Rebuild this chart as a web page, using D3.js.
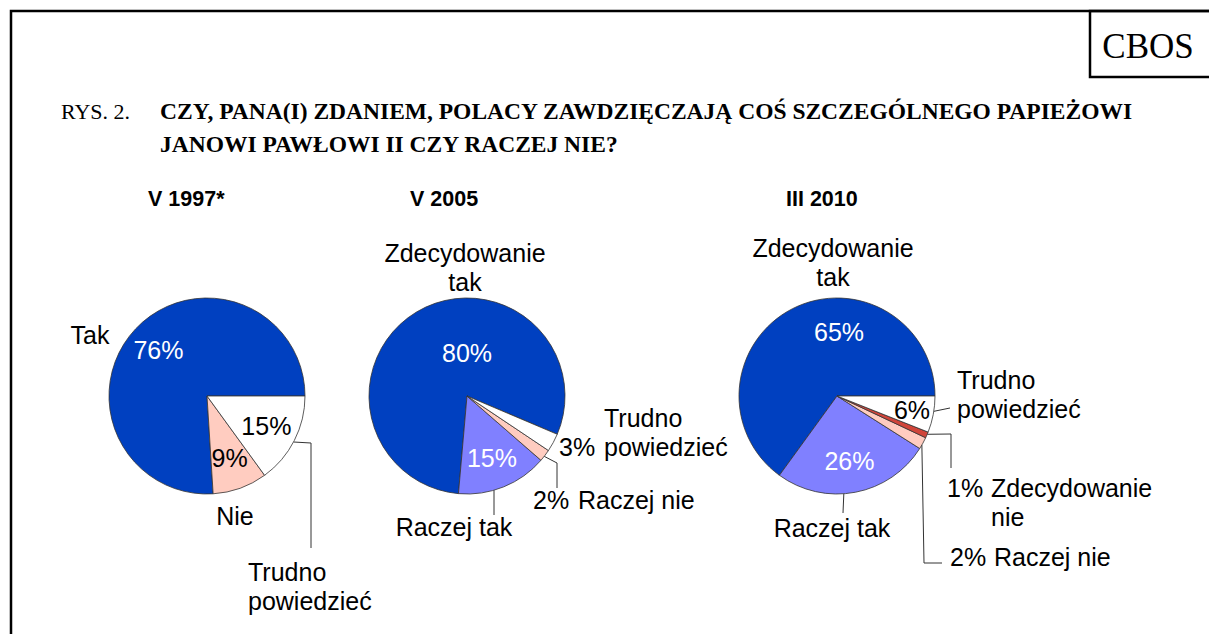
<!DOCTYPE html>
<html>
<head>
<meta charset="utf-8">
<script src="https://cdn.jsdelivr.net/npm/d3@7"></script>
<style>
  body { margin: 0; background: #fff; }
  svg { display: block; }
</style>
</head>
<body>
<svg id="chart" width="1209" height="634"></svg>
<script>
// data
var pieTitles = ['V 1997*', 'V 2005', 'III 2010'];
var cats1997 = ['Tak', 'Nie', 'Trudno powiedzieć'];
var vals1997 = [76, 9, 15];
var cats5 = ['Zdecydowanie tak', 'Raczej tak', 'Raczej nie', 'Zdecydowanie nie', 'Trudno powiedzieć'];
var vals2005 = [80, 15, 2, 0, 3];
var vals2010 = [65, 26, 2, 1, 6];

var titleLines = ['CZY, PANA(I) ZDANIEM, POLACY ZAWDZIĘCZAJĄ COŚ SZCZEGÓLNEGO PAPIEŻOWI',
                  'JANOWI PAWŁOWI II CZY RACZEJ NIE?'];

var colors1997 = ['#0040C0', '#FFCCC0', '#FFFFFF'];
var colors5 = ['#0040C0', '#8080FF', '#FFCCC0', '#D0453A', '#FFFFFF'];
var pctWhite5 = [true, true, false, false, false];

var svg = d3.select('#chart');
var r = 98;
var labelFont = "'Liberation Sans', Arial, sans-serif";
var serif = "'Liberation Serif', 'Times New Roman', serif";

// frame + CBOS box
svg.append('rect')
    .attr('x', 11).attr('y', 11)
    .attr('width', 1220).attr('height', 640)
    .style('fill', 'none').style('stroke', '#000').style('stroke-width', 2.5);
svg.append('rect')
    .attr('x', 1090).attr('y', 11)
    .attr('width', 140).attr('height', 66)
    .style('fill', 'none').style('stroke', '#000').style('stroke-width', 2.5);
svg.append('text')
    .attr('x', 1148).attr('y', 58)
    .attr('text-anchor', 'middle')
    .style('font-family', serif).style('font-size', '35px')
    .text('CBOS');

// title
svg.append('text')
    .attr('x', 61).attr('y', 119)
    .style('font-family', serif).style('font-size', '22px')
    .text('RYS. 2.');
titleLines.forEach(function (t, i) {
    svg.append('text')
        .attr('x', 160).attr('y', 119 + i * 33)
        .style('font-family', serif).style('font-size', '23.5px').style('font-weight', 'bold')
        .text(t);
});

// per-pie layout (label offsets relative to the pie centre)
var pies = [
  { title: pieTitles[0], cats: cats1997, vals: vals1997, colors: colors1997, white: [true, false, false],
    cx: 207, cy: 396, start: 90, tx: 148,
    slices: [
      { name: { x: -117, y: -61, anchor: 'middle' } },
      { name: { x: 28, y: 120, anchor: 'middle' } },
      { name: { x: 41, y: 176, anchor: 'start', wrap: true }, leader: { a: 118, pts: [[104, 47], [104, 152]] } }
    ] },
  { title: pieTitles[1], cats: cats5, vals: vals2005, colors: colors5, white: pctWhite5,
    cx: 467, cy: 396, start: 113, tx: 410,
    slices: [
      { name: { x: -2, y: -143, anchor: 'middle', wrap: true }, pct: { x: 0, y: -43, anchor: 'middle' } },
      { name: { x: -13, y: 131, anchor: 'middle' }, leader: { a: 164, pts: [[27, 119]] } },
      { name: { x: 111, y: 104, anchor: 'start' }, pct: { x: 66, y: 104, anchor: 'start' },
        leader: { a: 128, pts: [[90, 67], [90, 92]] } },
      null,
      { name: { x: 137, y: 22, anchor: 'start', wrap: true }, pct: { x: 92, y: 51, anchor: 'start' } }
    ] },
  { title: pieTitles[2], cats: cats5, vals: vals2010, colors: colors5, white: pctWhite5,
    cx: 837, cy: 396, start: 90, tx: 786,
    slices: [
      { name: { x: -4, y: -148, anchor: 'middle', wrap: true }, pct: { x: 2, y: -64, anchor: 'middle' } },
      { name: { x: -5, y: 132, anchor: 'middle' }, leader: { a: 176, pts: [[6, 117]] } },
      { name: { x: 157, y: 161, anchor: 'start' }, pct: { x: 113, y: 161, anchor: 'start' },
        leader: { a: 120, pts: [[87, 167], [105, 167]] } },
      { name: { x: 154, y: 92, anchor: 'start', wrap: true }, pct: { x: 110, y: 92, anchor: 'start' },
        leader: { a: 113, pts: [[114, 38], [114, 72]] } },
      { name: { x: 120, y: -16, anchor: 'start', wrap: true }, pct: { x: 75, y: 14, anchor: 'middle' },
        leader: { a: 99, pts: [[113, 12]] } }
    ] }
];

var arc = d3.arc().innerRadius(0).outerRadius(r);
var pctArc = d3.arc().innerRadius(r * 0.68).outerRadius(r * 0.68);

pies.forEach(function (p) {
    svg.append('text')
        .attr('x', p.tx).attr('y', 206)
        .style('font-family', labelFont).style('font-size', '21.5px').style('font-weight', 'bold')
        .text(p.title);

    var g = svg.append('g').attr('transform', 'translate(' + p.cx + ',' + p.cy + ')');
    var rad = p.start * Math.PI / 180;
    // counter-clockwise from the start angle
    var pie = d3.pie().sort(null).value(function (d) { return d; })
        .startAngle(rad).endAngle(rad - 2 * Math.PI);
    var arcs = pie(p.vals);

    // leader lines
    arcs.forEach(function (d, i) {
        var s = p.slices[i];
        if (!s || !s.leader || d.value === 0) return;
        var a = s.leader.a * Math.PI / 180;
        var pts = [[r * Math.sin(a), -r * Math.cos(a)]].concat(s.leader.pts);
        g.append('path')
            .attr('d', d3.line()(pts))
            .style('fill', 'none').style('stroke', '#333').style('stroke-width', 1);
    });

    g.selectAll('path.slice')
        .data(arcs.filter(function (d) { return d.value > 0; }))
        .enter()
        .append('path')
        .attr('class', 'slice')
        .attr('d', arc)
        .style('fill', function (d) { return p.colors[d.index]; })
        .style('stroke', '#333')
        .style('stroke-width', 0.8);

    arcs.forEach(function (d, i) {
        var s = p.slices[i];
        if (!s || d.value === 0) return;
        // percentage label
        var pos, anchor = 'middle';
        if (s.pct) { pos = [s.pct.x, s.pct.y]; anchor = s.pct.anchor; }
        else { pos = pctArc.centroid(d); }
        g.append('text')
            .attr('x', pos[0]).attr('y', pos[1]).attr('dy', '0.35em')
            .attr('text-anchor', anchor)
            .style('font-family', labelFont).style('font-size', '25px')
            .style('fill', p.white[i] ? '#fff' : '#000')
            .text(d.value + '%');
        // category label
        var name = p.cats[i];
        var lines = s.name.wrap ? [name.slice(0, name.indexOf(' ')), name.slice(name.indexOf(' ') + 1)] : [name];
        lines.forEach(function (t, k) {
            g.append('text')
                .attr('x', s.name.x).attr('y', s.name.y + k * 29).attr('dy', '0.35em')
                .attr('text-anchor', s.name.anchor)
                .style('font-family', labelFont).style('font-size', '25px')
                .text(t);
        });
    });
});
</script>
</body>
</html>
